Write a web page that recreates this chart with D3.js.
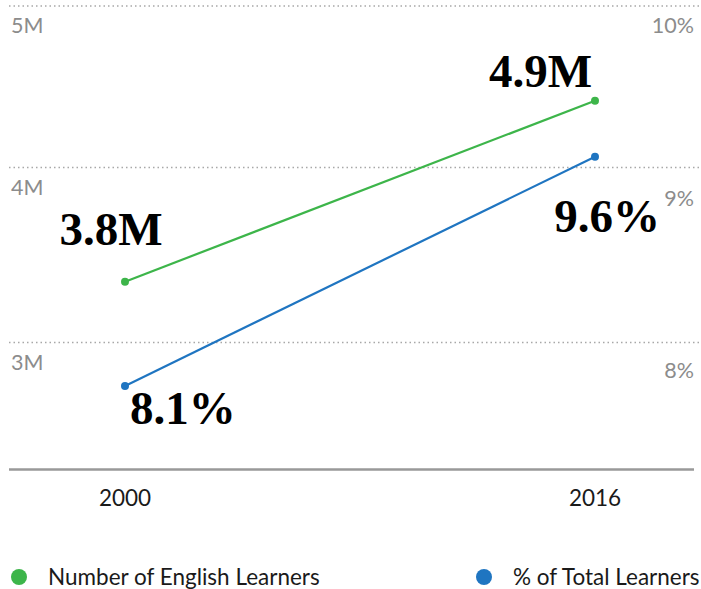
<!DOCTYPE html>
<html>
<head>
<meta charset="utf-8">
<script src="https://cdn.jsdelivr.net/npm/d3@7"></script>
<style>
  html, body { margin: 0; padding: 0; background: #fff; }
  svg { display: block; }
</style>
</head>
<body>
<div id="chart"></div>
<script>
// ---- data ----
const years = ["2000", "2016"];
const englishLearners = [3.8, 4.9];     // millions
const pctOfTotal = [8.1, 9.6];          // percent
const englishLabels = ["3.8M", "4.9M"];
const pctLabels = ["8.1%", "9.6%"];
const leftTicks = [3, 4, 5];
const leftTickLabels = ["3M", "4M", "5M"];
const rightTicks = [8, 9, 10];
const rightTickLabels = ["8%", "9%", "10%"];
const seriesNames = ["Number of English Learners", "% of Total Learners"];
const seriesColors = ["#3db54a", "#1f75c1"];

const W = 701, H = 589;
const svg = d3.select("#chart").append("svg").attr("width", W).attr("height", H);

const sansFont = "Lato, 'Noto Sans', sans-serif";
const serifFont = "'Liberation Serif', 'DejaVu Serif', serif";

// scales
const x = d3.scalePoint().domain(years).range([125, 595]);
const yLeftGrid = d3.scaleLinear().domain([3, 4]).range([342.5, 167.5]);
const yRightLabel = d3.scaleLinear().domain([8, 10]).range([378, 33]);
const yGreen = d3.scaleLinear().domain([3.8, 4.9]).range([281.7, 100.7]);
const yBlue = d3.scaleLinear().domain([8.1, 9.6]).range([386, 156.7]);

// gridlines (dotted)
const gridY = v => Math.max(6, yLeftGrid(v));
svg.append("g").selectAll("line").data(leftTicks).join("line")
  .attr("x1", 9).attr("x2", W)
  .attr("y1", d => gridY(d)).attr("y2", d => gridY(d))
  .attr("stroke", "#a8a8a8").attr("stroke-width", 1.5)
  .attr("stroke-dasharray", "1.5,3");

// left tick labels
svg.append("g").selectAll("text").data(leftTicks).join("text")
  .attr("x", 11).attr("y", d => gridY(d) + 27)
  .attr("font-family", sansFont).attr("font-size", 21.5)
  .attr("fill", "#8c8c8c")
  .text((d, i) => leftTickLabels[i]);

// right tick labels
svg.append("g").selectAll("text").data(rightTicks).join("text")
  .attr("x", 694).attr("y", d => yRightLabel(d))
  .attr("text-anchor", "end")
  .attr("font-family", sansFont).attr("font-size", 21.5)
  .attr("fill", "#8c8c8c")
  .text((d, i) => rightTickLabels[i]);

// baseline
svg.append("line").attr("x1", 9).attr("x2", 694).attr("y1", 469.5).attr("y2", 469.5)
  .attr("stroke", "#999").attr("stroke-width", 2.5);

// x axis labels
svg.append("g").selectAll("text").data(years).join("text")
  .attr("x", d => x(d)).attr("y", 506)
  .attr("text-anchor", "middle")
  .attr("font-family", sansFont).attr("font-size", 22.5)
  .attr("fill", "#1a1a1a")
  .text(d => d);

// lines
const series = [
  { vals: englishLearners, y: yGreen, color: seriesColors[0] },
  { vals: pctOfTotal, y: yBlue, color: seriesColors[1] }
];
series.forEach(s => {
  const pts = years.map((yr, i) => [x(yr), s.y(s.vals[i])]);
  svg.append("path").attr("d", d3.line()(pts))
    .attr("fill", "none").attr("stroke", s.color).attr("stroke-width", 2.2);
  svg.append("g").selectAll("circle").data(pts).join("circle")
    .attr("cx", d => d[0]).attr("cy", d => d[1]).attr("r", 4)
    .attr("fill", s.color);
});

// value labels
const labelStyle = sel => sel.attr("font-family", serifFont).attr("font-size", 47)
  .attr("font-weight", "bold").attr("fill", "#000");
// English learners
svg.append("text").call(labelStyle)
  .attr("x", x(years[0]) - 14).attr("y", yGreen(englishLearners[0]) - 37)
  .attr("text-anchor", "middle").text(englishLabels[0]);
svg.append("text").call(labelStyle)
  .attr("x", x(years[1]) - 3).attr("y", yGreen(englishLearners[1]) - 14)
  .attr("text-anchor", "end").text(englishLabels[1]);
// Percent
svg.append("text").call(labelStyle)
  .attr("x", x(years[0]) + 5).attr("y", yBlue(pctOfTotal[0]) + 38)
  .attr("text-anchor", "start").text(pctLabels[0]);
svg.append("text").call(labelStyle)
  .attr("x", x(years[1]) + 12).attr("y", yBlue(pctOfTotal[1]) + 75)
  .attr("text-anchor", "middle").text(pctLabels[1]);

// legend
const legend = [
  { name: seriesNames[0], color: seriesColors[0], cx: 19 },
  { name: seriesNames[1], color: seriesColors[1], cx: 484 }
];
legend.forEach(l => {
  svg.append("circle").attr("cx", l.cx).attr("cy", 577).attr("r", 8).attr("fill", l.color);
  svg.append("text").attr("x", l.cx + 29).attr("y", 585)
    .attr("font-family", sansFont).attr("font-size", 22.5).attr("fill", "#1a1a1a")
    .text(l.name);
});
</script>
</body>
</html>
